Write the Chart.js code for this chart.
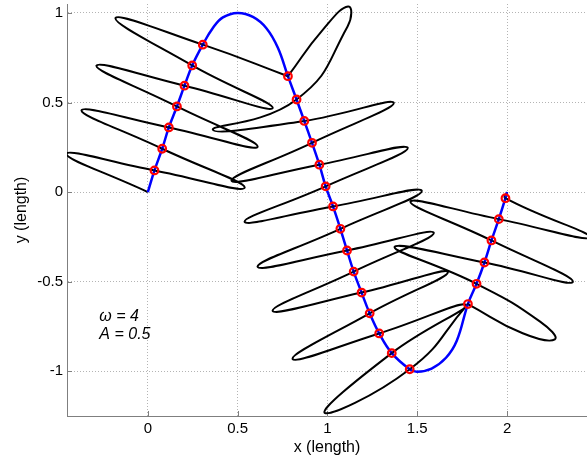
<!DOCTYPE html>
<html>
<head>
<meta charset="utf-8">
<script src="https://cdn.jsdelivr.net/npm/chart.js@4.4.0/dist/chart.umd.min.js"></script>
<style>
  html, body { margin: 0; padding: 0; background: #fff; }
</style>
</head>
<body>
<canvas id="waveChart" width="587" height="459"></canvas>
<script>
// axis ticks
const xTicks = [0, 0.5, 1, 1.5, 2];
const yTicks = [-1, -0.5, 0, 0.5, 1];

// blue centre line
const bladeX = [0, 0.037, 0.080, 0.117, 0.162, 0.204, 0.247, 0.306, 0.362, 0.418, 0.5, 0.585, 0.660, 0.724,
    0.780, 0.828, 0.871, 0.914, 0.955, 0.990, 1.031, 1.072, 1.109, 1.146, 1.190, 1.235, 1.288, 1.358, 1.458,
    1.50, 1.58, 1.66, 1.72, 1.782, 1.830, 1.874, 1.913, 1.954, 1.991, 2.0];
const bladeY = [0, 0.121, 0.242, 0.361, 0.478, 0.594, 0.707, 0.823, 0.916, 0.975, 1.0, 0.978, 0.915, 0.806,
    0.647, 0.517, 0.397, 0.275, 0.153, 0.032, -0.080, -0.205, -0.326, -0.444, -0.561, -0.677, -0.789, -0.899, -0.989,
    -1.003, -0.985, -0.925, -0.83, -0.625, -0.512, -0.393, -0.270, -0.151, -0.034, 0];

// red markers
const nodeX = [0.037, 0.080, 0.117, 0.162, 0.204, 0.247, 0.306,
    0.780, 0.828, 0.871, 0.914, 0.955, 0.990, 1.031, 1.072, 1.109, 1.146, 1.190, 1.235, 1.288, 1.358, 1.458,
    1.782, 1.830, 1.874, 1.913, 1.954, 1.991];
const nodeY = [0.121, 0.242, 0.361, 0.478, 0.594, 0.707, 0.823,
    0.647, 0.517, 0.397, 0.275, 0.153, 0.032, -0.080, -0.205, -0.326, -0.444, -0.561, -0.677, -0.789, -0.899, -0.989,
    -0.625, -0.512, -0.393, -0.270, -0.151, -0.034];

// black looped path (marker points, loop tips and a few edge points, in drawing order)
const loopX = [0, -0.453, 0.037, 0.539, 0.080, -0.369, 0.117, 0.611, 0.162, -0.286, 0.204, 0.695, 0.247, -0.180, 0.306,
    0.780, 0.780, 0.975, 1.115, 1.112, 0.828, 0.362, 0.871, 1.369, 0.914, 0.466, 0.955, 1.447, 0.990, 0.539,
    1.031, 1.525, 1.072, 0.611, 1.109, 1.592, 1.146, 0.695, 1.190, 1.670, 1.235, 0.806, 1.288, 1.770, 1.358,
    0.985, 1.458, 1.782, 1.782, 2.087, 2.266, 2.184, 1.830, 1.374, 1.874, 2.366, 1.913, 1.462, 1.954, 2.46, 1.991, 2.0];
const loopY = [0, 0.214, 0.121, 0.024, 0.242, 0.457, 0.361, 0.253, 0.478, 0.706, 0.594, 0.469, 0.707, 0.972, 0.823,
    0.647, 0.647, 0.907, 1.036, 0.925, 0.517, 0.348, 0.397, 0.499, 0.275, 0.063, 0.153, 0.247, 0.032, -0.166,
    -0.080, 0.007, -0.205, -0.417, -0.326, -0.227, -0.444, -0.663, -0.561, -0.446, -0.677, -0.932, -0.789, -0.630, -0.899,
    -1.233, -0.989, -0.625, -0.625, -0.788, -0.822, -0.723, -0.512, -0.306, -0.393, -0.501, -0.270, -0.053, -0.151, -0.252, -0.034, 0];

const noteLines = ['ω = 4', 'A = 0.5'];

const fontFamily = "'Liberation Sans', Arial, Helvetica, sans-serif";
const toPoints = (xs, ys) => xs.map((v, i) => ({x: v, y: ys[i]}));

// MATLAB style inward tick marks and the text note
const extras = {
    id: 'extras',
    beforeDatasetsDraw(chart) {
        const {ctx, chartArea, scales: {x, y}} = chart;
        ctx.save();
        ctx.strokeStyle = '#7f7f7f';
        ctx.lineWidth = 1;
        ctx.beginPath();
        xTicks.forEach(v => {
            const px = Math.round(x.getPixelForValue(v)) + 0.5;
            ctx.moveTo(px, chartArea.bottom);
            ctx.lineTo(px, chartArea.bottom - 5);
        });
        yTicks.forEach(v => {
            const py = Math.round(y.getPixelForValue(v)) + 0.5;
            ctx.moveTo(chartArea.left, py);
            ctx.lineTo(chartArea.left + 5, py);
        });
        ctx.stroke();
        ctx.restore();
    },
    afterDatasetsDraw(chart) {
        const {ctx, scales: {x, y}} = chart;
        ctx.save();
        ctx.fillStyle = '#000';
        ctx.font = 'italic 16px ' + fontFamily;
        ctx.textAlign = 'left';
        ctx.textBaseline = 'alphabetic';
        const left = x.getPixelForValue(-0.27);
        ctx.fillText(noteLines[0], left, y.getPixelForValue(-0.719));
        ctx.fillText(noteLines[1], left, y.getPixelForValue(-0.820));
        ctx.restore();
    }
};

new Chart(document.getElementById('waveChart'), {
    type: 'line',
    data: {
        datasets: [{
            label: 'centres',
            data: toPoints(nodeX, nodeY),
            showLine: false,
            pointRadius: 1.3,
            pointBorderWidth: 0,
            pointBackgroundColor: '#00005a',
            order: 0
        }, {
            label: 'markers',
            data: toPoints(nodeX, nodeY),
            showLine: false,
            pointRadius: 3.8,
            pointBorderWidth: 2.2,
            pointBorderColor: '#ff0000',
            pointBackgroundColor: 'rgba(0,0,0,0)',
            order: 1
        }, {
            label: 'blade',
            data: toPoints(bladeX, bladeY),
            borderColor: '#0000ff',
            borderWidth: 2.5,
            pointRadius: 0,
            tension: 0.4,
            order: 2
        }, {
            label: 'orbits',
            data: toPoints(loopX, loopY),
            borderColor: '#000000',
            borderWidth: 2,
            pointRadius: 0,
            tension: 0.5,
            order: 3
        }]
    },
    options: {
        responsive: false,
        animation: false,
        events: [],
        layout: {
            autoPadding: false,
            padding: {top: 4, right: 0, bottom: 0, left: 0}
        },
        plugins: {
            legend: {display: false},
            tooltip: {enabled: false}
        },
        scales: {
            x: {
                type: 'linear',
                min: -0.45,
                max: 2.445,
                afterBuildTicks: s => { s.ticks = xTicks.map(v => ({value: v})); },
                afterFit: s => {
                    s.height = 43;
                    s.paddingLeft = 0;
                    s.paddingRight = 0;
                },
                grid: {color: '#b4b4b4', lineWidth: 1, drawTicks: false},
                border: {color: '#7f7f7f', width: 1, dash: [1, 2]},
                ticks: {
                    color: '#000',
                    padding: 4,
                    font: {family: fontFamily, size: 15},
                    callback: v => String(v)
                },
                title: {
                    display: true,
                    text: 'x (length)',
                    color: '#000',
                    font: {family: fontFamily, size: 16},
                    padding: {top: 0, bottom: 2}
                }
            },
            y: {
                type: 'linear',
                min: -1.25,
                max: 1.05,
                afterBuildTicks: s => { s.ticks = yTicks.map(v => ({value: v})); },
                afterFit: s => {
                    s.width = 67;
                    s.paddingTop = 0;
                    s.paddingBottom = 0;
                },
                grid: {color: '#b4b4b4', lineWidth: 1, drawTicks: false},
                border: {color: '#7f7f7f', width: 1, dash: [1, 2]},
                ticks: {
                    color: '#000',
                    padding: 4,
                    font: {family: fontFamily, size: 15},
                    callback: v => String(v)
                },
                title: {
                    display: true,
                    text: 'y (length)',
                    color: '#000',
                    font: {family: fontFamily, size: 16},
                    padding: {top: 12, bottom: 0}
                }
            }
        }
    },
    plugins: [extras]
});
</script>
</body>
</html>
